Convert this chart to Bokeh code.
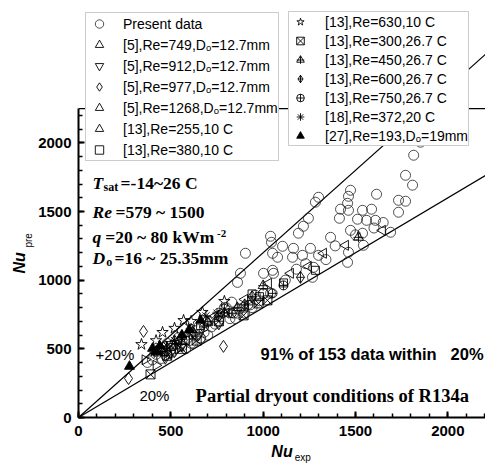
import numpy as np
from bokeh.plotting import figure
from bokeh.models import (Legend, LegendItem, Label, LinearAxis, Range1d, SingleIntervalTicker,
                          FixedTicker, Span)
from bokeh.embed import file_html
from bokeh.resources import INLINE

# ---------------- data ----------------
present_x = [1870, 1852, 1815, 1771, 1809, 1733, 1771, 1733, 1614, 1473, 1462, 1457, 1419, 1413, 1462,
             1538, 1587, 1511, 1560, 1608, 1473, 1538, 1690, 1365, 1543, 1462, 1457, 1300, 1283, 1245,
             1218, 1191, 1040, 1045, 1105, 1078, 1164, 1256, 1213, 1159, 1300, 1051, 1002, 1056, 1002,
             958, 1267, 1273, 904, 877, 861, 1051, 894, 1040, 800, 760, 830, 860, 700, 740,
             650, 620, 589, 560, 500, 450, 373, 420, 480, 540, 600, 680, 760, 820, 900,
             940, 980, 400, 470, 520, 610, 640, 660, 720, 840, 870, 930, 960, 1000, 790,
             850, 440, 1340, 1390, 1120, 1180, 1230, 1600, 1650, 1500, 661, 700, 580, 620]
present_y = [2060, 2005, 1910, 1764, 1692, 1582, 1575, 1495, 1626, 1655, 1611, 1560, 1517, 1451, 1509,
             1509, 1517, 1444, 1436, 1436, 1363, 1342, 1349, 1312, 1254, 1203, 1130, 1604, 1568, 1451,
             1393, 1342, 1320, 1276, 1247, 1167, 1232, 1232, 1181, 1167, 1181, 1072, 1050, 1050, 904,
             890, 1021, 1094, 1196, 1050, 984, 1196, 802, 904, 800, 760, 840, 760, 700, 680,
             640, 600, 576, 520, 470, 430, 401, 460, 540, 580, 560, 620, 700, 720, 760,
             800, 850, 420, 480, 500, 540, 600, 580, 660, 760, 790, 820, 860, 900, 800,
             720, 500, 1150, 1250, 1000, 1080, 1120, 1380, 1420, 1330, 576, 600, 500, 540]

r5_749_x = [430, 520, 610, 700, 450]
r5_749_y = [470, 560, 640, 690, 500]
r5_912_x = [470, 560, 650, 760, 500]
r5_912_y = [430, 520, 600, 680, 470]
r5_977_x = [352, 271, 785, 520]
r5_977_y = [627, 284, 518, 480]
r5_1268_x = [1646, 1446, 1327, 1245, 1148, 1029, 900, 800, 460, 540, 740]
r5_1268_y = [1363, 1254, 1196, 1101, 1050, 977, 860, 760, 520, 560, 740]
r13_255_x = [360, 420, 480, 540]
r13_255_y = [420, 380, 450, 500]
r13_380_x = [1283, 1110, 980, 661, 580, 940]
r13_380_y = [1072, 980, 880, 670, 560, 900]
r13_630_x = [341, 455, 569, 671, 790, 420, 520, 610]
r13_630_y = [532, 620, 707, 766, 846, 560, 650, 700]
r13_300_x = [390, 894, 1023, 975, 480, 560, 640, 760, 500]
r13_300_y = [314, 744, 853, 831, 450, 500, 560, 700, 520]
r13_450_x = [1516, 1000, 860, 700, 560, 790]
r13_450_y = [1312, 960, 800, 700, 590, 760]
r13_600_x = [1202, 900, 760, 620, 480, 940]
r13_600_y = [1021, 820, 740, 620, 500, 880]
r13_750_x = [1110, 1051, 830, 680, 530, 920]
r13_750_y = [962, 904, 760, 660, 530, 820]
r18_372_x = [410, 450, 480, 520, 560, 600, 750, 790, 690]
r18_372_y = [470, 480, 520, 560, 580, 620, 760, 790, 740]
r27_193_x = [276, 401, 420, 440, 661, 560, 600]
r27_193_y = [372, 503, 480, 520, 707, 600, 640]

ref_x = [0, 2204]
ref_upper = [0, 2645]   # +20 %
ref_lower = [0, 1763]   # -20 %

labels_left = ["Present data", "[5],Re=749,D\u2092=12.7mm", "[5],Re=912,D\u2092=12.7mm",
               "[5],Re=977,D\u2092=12.7mm", "[5],Re=1268,D\u2092=12.7mm",
               "[13],Re=255,10 C", "[13],Re=380,10 C"]
labels_right = ["[13],Re=630,10 C", "[13],Re=300,26.7 C", "[13],Re=450,26.7 C",
                "[13],Re=600,26.7 C", "[13],Re=750,26.7 C", "[18],Re=372,20 C",
                "[27],Re=193,D\u2092=19mm"]

X_END = 2204
Y_AXIS_END = 2250
Y_VIEW_END = 2964
NB = "\u00a0"

# ---------------- figure ----------------
p = figure(width=485, height=465, output_backend="svg", toolbar_location=None,
           x_range=Range1d(0, X_END), y_range=Range1d(0, Y_VIEW_END),
           min_border_left=78, min_border_right=0, min_border_top=10, min_border_bottom=48)
p.grid.visible = False
p.outline_line_color = None
p.background_fill_color = "white"

for ax in (p.xaxis[0], p.yaxis[0]):
    ax.axis_line_width = 2
    ax.major_tick_line_width = 2
    ax.minor_tick_line_width = 1.5
    ax.major_tick_in = 6
    ax.major_tick_out = 0
    ax.minor_tick_in = 4
    ax.minor_tick_out = 0
    ax.major_label_text_font = "Liberation Sans"
    ax.major_label_text_font_style = "bold"
    ax.major_label_text_font_size = "15px"
    ax.major_label_text_color = "black"
p.xaxis.ticker = SingleIntervalTicker(interval=500, num_minor_ticks=5)
p.xaxis.bounds = (0, X_END)
p.yaxis.ticker = FixedTicker(ticks=[0, 500, 1000, 1500, 2000],
                             minor_ticks=list(range(0, 2300, 100)))
p.yaxis.bounds = (0, Y_AXIS_END)
p.xaxis.major_label_standoff = 8
p.yaxis.major_label_standoff = 7


def title_axis(side, text, size, style, standoff):
    ax = LinearAxis(ticker=FixedTicker(ticks=[]), axis_line_color=None,
                    major_tick_line_color=None, minor_tick_line_color=None,
                    major_tick_in=0, major_tick_out=0, minor_tick_in=0, minor_tick_out=0,
                    major_label_standoff=0,
                    axis_label=text, axis_label_text_font="Liberation Sans",
                    axis_label_text_font_style=style, axis_label_text_font_size=size,
                    axis_label_text_color="black", axis_label_standoff=standoff)
    p.add_layout(ax, side)
    return ax

# x title "Nu" + subscript "exp" (non-breaking spaces shift the subscript right)
title_axis("below", "Nu", "16px", "bold italic", 4)
title_axis("below", NB * 15 + "exp", "10px", "normal", -11)
# y title: subscript "pre" sits next to the axis, "Nu" further out
title_axis("left", "pre" + NB * 19, "10px", "normal", 2)
title_axis("left", "Nu" + NB * 22, "16px", "bold italic", -8)

p.add_layout(Span(location=Y_AXIS_END, dimension="width", line_color="black", line_width=1.2))

p.line(ref_x, ref_upper, line_color="black", line_width=1.2)
p.line(ref_x, ref_lower, line_color="black", line_width=1.2)


def mk(xs, ys, marker, size, **kw):
    opts = dict(line_color="black", fill_color=None, line_width=0.9)
    opts.update(kw)
    return p.scatter(xs, ys, marker=marker, size=size, **opts)

r_pres = mk(present_x, present_y, "circle", 10, line_color="#222222", line_width=0.8)
r_749 = mk(r5_749_x, r5_749_y, "triangle", 10)
r_912 = mk(r5_912_x, r5_912_y, "inverted_triangle", 10)
r_977 = mk(r5_977_x, r5_977_y, "diamond", 12)
r_1268 = mk(r5_1268_x, r5_1268_y, "triangle", 10, angle=[np.pi / 2] * len(r5_1268_x))
r_255 = mk(r13_255_x, r13_255_y, "triangle", 10, angle=[-np.pi / 2] * len(r13_255_x))
r_380 = mk(r13_380_x, r13_380_y, "square", 8)
r_630 = mk(r13_630_x, r13_630_y, "star", 12)
r_300 = mk(r13_300_x, r13_300_y, "square_x", 9)
r_450a = mk(r13_450_x, r13_450_y, "triangle", 10)
r_450b = mk(r13_450_x, r13_450_y, "cross", 10)
r_600 = mk(r13_600_x, r13_600_y, "diamond_cross", 12)
r_750 = mk(r13_750_x, r13_750_y, "circle_cross", 9)
r_372 = mk(r18_372_x, r18_372_y, "asterisk", 10)
r_193 = mk(r27_193_x, r27_193_y, "triangle", 10, fill_color="black")

left_r = [[r_pres], [r_749], [r_912], [r_977], [r_1268], [r_255], [r_380]]
right_r = [[r_630], [r_300], [r_450a, r_450b], [r_600], [r_750], [r_372], [r_193]]


def make_legend(labels, rends, loc, gw, gh, standoff):
    leg = Legend(items=[LegendItem(label=l, renderers=r) for l, r in zip(labels, rends)],
                 location=loc, orientation="vertical",
                 label_text_font="Liberation Sans", label_text_font_size="14px",
                 label_text_color="black",
                 glyph_width=gw, glyph_height=gh, label_height=gh, spacing=0,
                 padding=0, margin=0, label_standoff=standoff,
                 border_line_color="#9a9a9a", border_line_width=1,
                 background_fill_color="white", background_fill_alpha=1.0)
    p.add_layout(leg, "center")
    return leg

make_legend(labels_left, left_r, (7, 256), 26, 21, 11)
make_legend(labels_right, right_r, (210, 271), 22, 19, 14)

# ---------------- annotations ----------------
def lab(x, y, text, size, font="Liberation Serif", style="bold", align="left"):
    p.add_layout(Label(x=x, y=y, text=text, text_font=font, text_font_style=style,
                       text_font_size=size, text_color="black", text_align=align,
                       text_baseline="middle"))

S = "17.5px"
lab(76, 1706, "T", S, style="bold italic")
lab(136, 1680, "sat", "12px")
lab(228, 1706, "=-14~26 C", S)
lab(76, 1495, "Re", S, style="bold italic")
lab(200, 1495, "=579 ~ 1500", S)
lab(76, 1312, "q", S, style="bold italic")
lab(145, 1312, "=20 ~ 80 kWm", S)
lab(750, 1340, "-2", "11px")
lab(76, 1159, "D", S, style="bold italic")
lab(150, 1135, "o", "12px")
lab(195, 1159, "=16 ~ 25.35mm", S)

lab(92, 459, "+20%", "15px", font="Liberation Sans", style="normal")
lab(330, 160, "20%", "15px", font="Liberation Sans", style="normal")
lab(986, 459, "91% of 153 data within", "16.5px", font="Liberation Sans")
lab(2015, 459, "20%", "16.5px", font="Liberation Sans")
lab(634, 153, "Partial dryout conditions of R134a", "18.5px")

open("out.html", "w").write(file_html(p, INLINE))
